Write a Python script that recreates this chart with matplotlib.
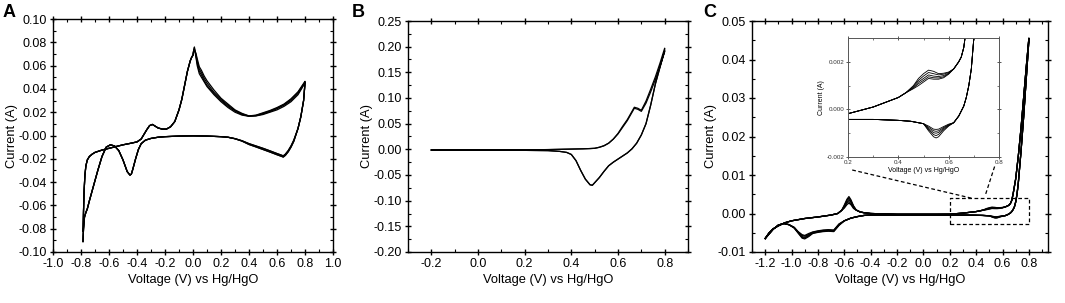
import matplotlib
matplotlib.use("Agg")
import matplotlib.pyplot as plt
from matplotlib.ticker import MultipleLocator, FormatStrFormatter

plt.rcParams['font.family'] = ['Liberation Sans', 'DejaVu Sans']
plt.rcParams['axes.unicode_minus'] = False

# ---- Panel A: CV, several cycles ----
a_x_head = [-0.785, -0.782, -0.778, -0.772, -0.765, -0.755, -0.74, -0.72, -0.70,
            -0.65, -0.60, -0.55, -0.50, -0.45, -0.40, -0.37, -0.35, -0.33, -0.31,
            -0.29, -0.27, -0.25, -0.22, -0.19, -0.16, -0.13, -0.10, -0.08, -0.06,
            -0.04, -0.02, -0.01, 0.00, 0.005]
a_y_head = [-0.082, -0.065, -0.048, -0.034, -0.026, -0.021, -0.018, -0.016, -0.0145,
            -0.0125, -0.011, -0.0095, -0.008, -0.0068, -0.0055, -0.003, 0.001, 0.005, 0.0085,
            0.0095, 0.008, 0.0065, 0.0055, 0.0055, 0.0075, 0.012, 0.022, 0.031, 0.043,
            0.055, 0.064, 0.067, 0.069, 0.073]
a_x_tail = [0.01, 0.02, 0.03, 0.045, 0.06, 0.08, 0.10, 0.15, 0.20, 0.25, 0.30, 0.35,
            0.40, 0.45, 0.50, 0.55, 0.60, 0.65, 0.70, 0.75, 0.80]
a_y_tail = [
    [0.076, 0.068, 0.060, 0.053, 0.050, 0.046, 0.042, 0.035, 0.029, 0.024, 0.020, 0.0175,
     0.0165, 0.0168, 0.018, 0.020, 0.022, 0.025, 0.029, 0.035, 0.045],
    [0.075, 0.069, 0.062, 0.055, 0.052, 0.047, 0.043, 0.036, 0.030, 0.025, 0.021, 0.018,
     0.0166, 0.017, 0.0185, 0.0205, 0.023, 0.026, 0.030, 0.036, 0.0455],
    [0.074, 0.070, 0.064, 0.057, 0.054, 0.049, 0.045, 0.037, 0.031, 0.026, 0.0215, 0.0185,
     0.0167, 0.0172, 0.019, 0.021, 0.0235, 0.0265, 0.031, 0.037, 0.046],
    [0.073, 0.071, 0.066, 0.059, 0.056, 0.051, 0.047, 0.039, 0.032, 0.027, 0.022, 0.019,
     0.0168, 0.0175, 0.0195, 0.0215, 0.024, 0.027, 0.0315, 0.0375, 0.0465],
]
a_x_red = [0.80, 0.79, 0.77, 0.75, 0.72, 0.70, 0.68, 0.66, 0.645, 0.63, 0.60, 0.55,
           0.50, 0.45, 0.40, 0.35, 0.30, 0.25, 0.20, 0.10, 0.00, -0.10, -0.20, -0.25,
           -0.30, -0.34, -0.37, -0.39, -0.41, -0.43, -0.44, -0.45, -0.47, -0.50, -0.53,
           -0.56, -0.59, -0.62, -0.65, -0.68, -0.71, -0.74, -0.755, -0.765, -0.775,
           -0.782, -0.786]
a_y_red = [
    [0.045, 0.030, 0.016, 0.006, -0.004, -0.009, -0.013, -0.016, -0.0175, -0.0168,
     -0.0155, -0.0132, -0.011, -0.009, -0.007, -0.0045, -0.0027, -0.0015, -0.001, -0.0005,
     -0.0003, -0.0005, -0.001, -0.0015, -0.0025, -0.004, -0.007, -0.012, -0.020, -0.029,
     -0.033, -0.034, -0.031, -0.021, -0.013, -0.009, -0.008, -0.010, -0.018, -0.030,
     -0.043, -0.056, -0.063, -0.066, -0.070, -0.080, -0.091],
    [0.045, 0.030, 0.016, 0.006, -0.005, -0.010, -0.014, -0.017, -0.0185, -0.0178,
     -0.0165, -0.0142, -0.012, -0.0098, -0.0077, -0.0048, -0.0028, -0.0015, -0.001, -0.0005,
     -0.0003, -0.0005, -0.001, -0.0015, -0.0025, -0.004, -0.007, -0.012, -0.020, -0.029,
     -0.033, -0.034, -0.031, -0.021, -0.013, -0.009, -0.008, -0.010, -0.018, -0.030,
     -0.043, -0.056, -0.063, -0.066, -0.070, -0.080, -0.091],
]

# ---- Panel B: CV, two cycles ----
b_x_an = [-0.20, 0.00, 0.20, 0.30, 0.35, 0.40, 0.45, 0.48, 0.50, 0.52, 0.54, 0.56, 0.58,
          0.60, 0.62, 0.64, 0.655, 0.67, 0.685, 0.70, 0.72, 0.74, 0.76, 0.78, 0.80]
b_y_an = [
    [-0.0015, -0.0015, -0.001, -0.0005, 0.0, 0.0005, 0.001, 0.0015, 0.002, 0.004, 0.007,
     0.012, 0.020, 0.031, 0.045, 0.058, 0.070, 0.082, 0.080, 0.076, 0.094, 0.117, 0.141,
     0.168, 0.197],
    [-0.0015, -0.0015, -0.001, -0.0005, 0.0, 0.0005, 0.001, 0.0015, 0.002, 0.004, 0.007,
     0.012, 0.020, 0.030, 0.043, 0.056, 0.068, 0.080, 0.078, 0.074, 0.090, 0.112, 0.136,
     0.162, 0.190],
]
b_x_cat = [0.80, 0.78, 0.76, 0.74, 0.72, 0.70, 0.68, 0.66, 0.64, 0.62, 0.60, 0.58, 0.56,
           0.54, 0.52, 0.50, 0.49, 0.48, 0.46, 0.44, 0.42, 0.40, 0.38, 0.35, 0.30, 0.20,
           0.00, -0.20]
b_y_cat = [0.192, 0.160, 0.127, 0.086, 0.050, 0.028, 0.012, 0.001, -0.007, -0.013, -0.019,
           -0.025, -0.032, -0.043, -0.055, -0.065, -0.070, -0.069, -0.058, -0.041, -0.022,
           -0.010, -0.006, -0.004, -0.0025, -0.002, -0.0015, -0.0012]

# ---- Panel C: CV, five cycles (inset shows the same data) ----
c_x_an = [-1.20, -1.17, -1.14, -1.10, -1.05, -1.00, -0.90, -0.80, -0.70, -0.65, -0.62,
          -0.60, -0.58, -0.565, -0.55, -0.53,
          -0.51, -0.48, -0.45, -0.40, -0.30, -0.20, -0.10, 0.00, 0.10, 0.20, 0.30, 0.35,
          0.40, 0.43,
          0.46, 0.48, 0.50, 0.52, 0.54, 0.56, 0.58, 0.60,
          0.62, 0.64, 0.65, 0.66, 0.67, 0.68, 0.70, 0.72, 0.74, 0.76, 0.78, 0.80]
c_an_start = [-0.0065, -0.0050, -0.0040, -0.0032, -0.0024, -0.0019, -0.0013, -0.0009,
              -0.0004, 0.0000, 0.0008]
c_an_peak1 = [
    [0.0022, 0.0037, 0.0044, 0.0036, 0.0020],
    [0.0020, 0.0034, 0.0040, 0.0033, 0.0019],
    [0.0018, 0.0030, 0.0036, 0.0030, 0.0017],
    [0.0016, 0.0027, 0.0031, 0.0026, 0.0015],
    [0.0014, 0.0023, 0.0027, 0.0023, 0.0013],
]
c_an_mid = [0.0009, 0.0004, 0.0002, 0.0000, -0.0001, -0.0002, -0.0002, -0.0002, -0.0002,
            -0.00018, 0.0001, 0.0003, 0.0005, 0.0007]
c_an_peak2 = [
    [0.0010, 0.0013, 0.0015, 0.00165, 0.0016, 0.0015, 0.00152, 0.00157],
    [0.00097, 0.00122, 0.0014, 0.00155, 0.0015, 0.00145, 0.00148, 0.00155],
    [0.00093, 0.00115, 0.0013, 0.00145, 0.0014, 0.00138, 0.00142, 0.00152],
    [0.0009, 0.00108, 0.00122, 0.00137, 0.00133, 0.00132, 0.00137, 0.0015],
    [0.00087, 0.0010, 0.00115, 0.0013, 0.00127, 0.00127, 0.00133, 0.00148],
]
c_an_end = [0.0017, 0.0020, 0.0022, 0.0026, 0.0034, 0.0050, 0.009, 0.015, 0.022, 0.030,
            0.038, 0.0455]

c_x_cat = [0.80, 0.78, 0.76, 0.74, 0.72, 0.71, 0.70, 0.69, 0.68, 0.67, 0.66, 0.64, 0.62,
           0.60, 0.58, 0.56, 0.55, 0.54, 0.52,
           0.50, 0.45, 0.40, 0.30, 0.20, 0.10, 0.00, -0.10, -0.20, -0.30, -0.40, -0.45,
           -0.50, -0.55, -0.60,
           -0.64, -0.68, -0.72, -0.76, -0.80, -0.84, -0.87, -0.90, -0.92, -0.95, -0.98,
           -1.02, -1.06, -1.10, -1.14, -1.17, -1.20]
c_cat_start = [0.045, 0.035, 0.025, 0.016, 0.008, 0.005, 0.003, 0.0017, 0.001, 0.0005,
               0.00014, -0.00028, -0.00056]
c_cat_peak1 = [
    [-0.0007, -0.0009, -0.00115, -0.0012, -0.00115, -0.0009],
    [-0.00068, -0.00085, -0.00105, -0.0011, -0.00106, -0.00085],
    [-0.00066, -0.0008, -0.00097, -0.0010, -0.00098, -0.0008],
    [-0.00064, -0.00076, -0.0009, -0.00092, -0.0009, -0.00075],
    [-0.00062, -0.00072, -0.00083, -0.00084, -0.00083, -0.0007],
]
c_cat_mid = [-0.0006, -0.0005, -0.00046, -0.00042, -0.00042, -0.0004, -0.0004, -0.0004,
             -0.0004, -0.0004, -0.0004, -0.0005, -0.0008, -0.0012, -0.0019]
c_cat_peak2 = [
    [-0.0031, -0.0047, -0.0046, -0.0047, -0.0049, -0.0052, -0.0060, -0.0066, -0.0064, -0.0051, -0.0038],
    [-0.0030, -0.0046, -0.0045, -0.0046, -0.0048, -0.0051, -0.0058, -0.0064, -0.0062, -0.0050, -0.0037],
    [-0.0029, -0.0045, -0.0044, -0.0045, -0.0047, -0.0050, -0.0056, -0.0062, -0.0060, -0.0049, -0.0037],
    [-0.0028, -0.0044, -0.0043, -0.0044, -0.0046, -0.0049, -0.0054, -0.0059, -0.0057, -0.0048, -0.0036],
    [-0.0027, -0.0043, -0.0042, -0.0043, -0.0045, -0.0048, -0.0052, -0.0057, -0.0055, -0.0047, -0.0036],
]
c_cat_end = [-0.0029, -0.0026, -0.0030, -0.0041, -0.0053, -0.0065]

# zoom box in panel C and the two guide lines to the inset (data coords)
box_x = [0.2, 0.8, 0.8, 0.2, 0.2]
box_y = [-0.0027, -0.0027, 0.0039, 0.0039, -0.0027]
guide_left = ([-0.54, 0.375], [0.0113, 0.0039])
guide_right = ([0.54, 0.47], [0.0122, 0.0048])

xlabel = "Voltage (V) vs Hg/HgO"
ylabel = "Current (A)"

fig = plt.figure(figsize=(10.65, 3.03), dpi=100)
ax_a = fig.add_axes([53/1065, 1-252/303, 280/1065, 233/303])
ax_b = fig.add_axes([408/1065, 1-252/303, 280/1065, 231/303])
ax_c = fig.add_axes([752/1065, 1-252/303, 296/1065, 231/303])
ax_in = fig.add_axes([848/1065, 1-157/303, 151/1065, 119/303])


def style(ax, xmaj, xmin, ymaj, ymin, xfmt, yfmt, fs=9, lw=1.0, tl=5, color='black'):
    ax.xaxis.set_major_locator(MultipleLocator(xmaj))
    ax.xaxis.set_minor_locator(MultipleLocator(xmin))
    ax.yaxis.set_major_locator(MultipleLocator(ymaj))
    ax.yaxis.set_minor_locator(MultipleLocator(ymin))
    ax.xaxis.set_major_formatter(FormatStrFormatter(xfmt))
    ax.yaxis.set_major_formatter(FormatStrFormatter(yfmt))
    ax.tick_params(which='major', direction='inout', length=tl, width=lw,
                   top=True, right=True, labelsize=fs, pad=2, color=color)
    ax.tick_params(which='minor', direction='in', length=tl*0.5, width=lw*0.8,
                   top=True, right=True, color=color)
    for s in ax.spines.values():
        s.set_linewidth(lw)
        s.set_color(color)


lw_curve = 0.9

# A
for k in range(len(a_y_tail)):
    red = a_y_red[k % 2]
    ax_a.plot(a_x_head + a_x_tail + a_x_red, a_y_head + a_y_tail[k] + red,
              color='black', lw=lw_curve)
ax_a.set_xlim(-1.0, 1.0)
ax_a.set_ylim(-0.10, 0.10)
style(ax_a, 0.2, 0.1, 0.02, 0.01, '%.1f', '%.2f')
ax_a.set_xlabel(xlabel, fontsize=9.3, labelpad=3)
ax_a.set_ylabel(ylabel, fontsize=9.3, labelpad=0)

# B
for k in range(len(b_y_an)):
    ax_b.plot(b_x_an + b_x_cat, b_y_an[k] + b_y_cat, color='black', lw=lw_curve)
ax_b.set_xlim(-0.3, 0.9)
ax_b.set_ylim(-0.20, 0.25)
style(ax_b, 0.2, 0.1, 0.05, 0.025, '%.1f', '%.2f')
ax_b.set_xticks([-0.2, 0.0, 0.2, 0.4, 0.6, 0.8])
ax_b.set_xlabel(xlabel, fontsize=9.3, labelpad=3)
ax_b.set_ylabel(ylabel, fontsize=9.3, labelpad=0)

# C and inset
for k in range(len(c_an_peak1)):
    ys = (c_an_start + c_an_peak1[k] + c_an_mid + c_an_peak2[k] + c_an_end
          + c_cat_start + c_cat_peak1[k] + c_cat_mid + c_cat_peak2[k] + c_cat_end)
    xs = c_x_an + c_x_cat
    ax_c.plot(xs, ys, color='black', lw=lw_curve)
    ax_in.plot(xs, ys, color='black', lw=0.6)
ax_c.plot(box_x, box_y, color='black', lw=0.9, ls=(0, (3, 2)))
ax_c.plot(*guide_left, color='black', lw=0.9, ls=(0, (3, 2)))
ax_c.plot(*guide_right, color='black', lw=0.9, ls=(0, (3, 2)))
ax_c.set_xlim(-1.3, 0.945)
ax_c.set_ylim(-0.01, 0.05)
style(ax_c, 0.2, 0.1, 0.01, 0.005, '%.1f', '%.2f')
ax_c.set_xticks([-1.2, -1.0, -0.8, -0.6, -0.4, -0.2, 0.0, 0.2, 0.4, 0.6, 0.8])
ax_c.set_xlabel(xlabel, fontsize=9.3, labelpad=3)
ax_c.set_ylabel(ylabel, fontsize=9.3, labelpad=0)

ax_in.set_xlim(0.2, 0.8)
ax_in.set_ylim(-0.002, 0.003)
style(ax_in, 0.2, 0.1, 0.002, 0.001, '%.1f', '%.3f', fs=4.5, lw=0.7, tl=3, color='#555555')
ax_in.set_xlabel(xlabel, fontsize=5, labelpad=1)
ax_in.set_ylabel(ylabel, fontsize=5, labelpad=1)
ax_in.tick_params(labelcolor='#333333', pad=1)

for lab, x in [('A', 3), ('B', 352), ('C', 703)]:
    fig.text(x/1065, 1-4/303, lab, fontsize=13, fontweight='bold', va='top', ha='left')

fig.savefig('out.png', dpi=100)
